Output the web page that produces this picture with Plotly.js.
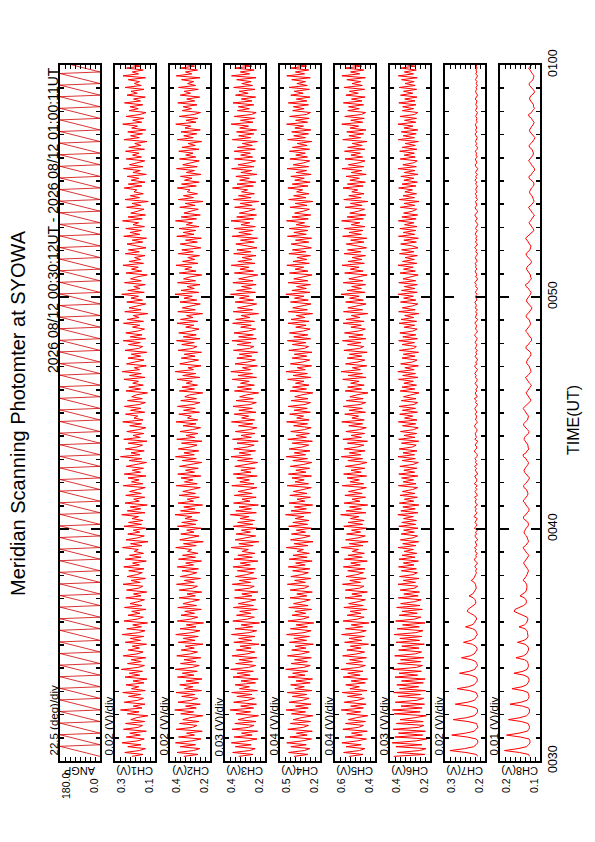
<!DOCTYPE html>
<html><head><meta charset="utf-8">
<script src="https://cdn.plot.ly/plotly-3.0.1.min.js"></script>
<style>html,body{margin:0;padding:0;background:#fff}#chart{width:595px;height:842px}</style>
</head><body><div id="chart"></div>
<script>
const chartTitle = 'Meridian Scanning Photomter at SYOWA';
const periodText = '2026 08/12 00:30:12UT - 2026 08/12 01:00:11UT';
const timeTitle = 'TIME(UT)';
const timeTickVals = [30, 40, 50, 60];
const timeTickText = ['0030', '0040', '0050', '0100'];
const channelNames = ['ANGP', 'CH1(V)', 'CH2(V)', 'CH3(V)', 'CH4(V)', 'CH5(V)', 'CH6(V)', 'CH7(V)', 'CH8(V)'];
const scaleLabels = ['22.5 (deg)/div', '0.02 (V)/div', '0.02 (V)/div', '0.03 (V)/div', '0.04 (V)/div', '0.04 (V)/div', '0.03 (V)/div', '0.02 (V)/div', '0.01 (V)/div'];
const axisLow  = [0,   0.12, 0.20, 0.20, 0.20, 0.32, 0.20, 0.16, 0.10];
const axisHigh = [180, 0.28, 0.36, 0.44, 0.52, 0.64, 0.44, 0.32, 0.18];
const axisDiv  = [22.5, 0.02, 0.02, 0.03, 0.04, 0.04, 0.03, 0.02, 0.01];
const highLabels = ['180.0', '0.3', '0.4', '0.4', '0.5', '0.6', '0.4', '0.3', '0.2'];
const lowLabels  = ['0.0', '0.1', '0.2', '0.2', '0.2', '0.4', '0.2', '0.2', '0.1'];

// scan angle (sawtooth): slow sweep 0 -> 180 deg, fast return, one scan every 30 s from 00:30:12
const scanStart = 30.2, scanPeriod = 0.5, sweepTime = 26 / 60;
const angp = [0,180,0,180,0,180,0,180,0,180,0,180,0,180,0,180,0,180,0,180,
0,180,0,180,0,180,0,180,0,180,0,180,0,180,0,180,0,180,0,180,
0,180,0,180,0,180,0,180,0,180,0,180,0,180,0,180,0,180,0,180,
0,180,0,180,0,180,0,180,0,180,0,180,0,180,0,180,0,180,0,180,
0,180,0,180,0,180,0,180,0,180,0,180,0,180,0,180,0,180,0,180,
0,180,0,180,0,180,0,180,0,180,0,180,0,180,0,180,0,180,0,180,0];

// photometer samples every 5 s starting 00:30:12
const sampleStart = 30.2, sampleStep = 1 / 12;
const ch1 = [
0.212,0.168,0.241,0.183,0.158,0.229,0.176,0.252,0.190,0.163,0.235,0.179,
0.221,0.155,0.246,0.187,0.170,0.238,0.161,0.217,0.194,0.149,0.231,0.184,
0.258,0.172,0.207,0.160,0.243,0.189,0.166,0.226,0.177,0.249,0.159,0.214,
0.185,0.236,0.164,0.208,0.152,0.240,0.181,0.223,0.170,0.255,0.188,0.162,
0.230,0.175,0.215,0.157,0.247,0.192,0.168,0.227,0.182,0.211,0.154,0.239,
0.178,0.219,0.165,0.251,0.186,0.160,0.233,0.174,0.209,0.150,0.244,0.191,
0.167,0.228,0.180,0.213,0.156,0.242,0.173,0.220,0.189,0.162,0.237,0.176,
0.206,0.153,0.234,0.185,0.169,0.248,0.179,0.216,0.158,0.232,0.193,0.171,
0.225,0.164,0.245,0.182,0.210,0.155,0.239,0.176,0.222,0.166,0.203,0.187,
0.250,0.172,0.218,0.148,0.236,0.190,0.163,0.229,0.181,0.207,0.157,0.244,
0.174,0.226,0.168,0.212,0.186,0.253,0.160,0.231,0.177,0.219,0.151,0.240,
0.183,0.205,0.161,0.237,0.175,0.222,0.190,0.159,0.247,0.169,0.214,0.184,
0.228,0.156,0.243,0.178,0.211,0.166,0.235,0.188,0.154,0.224,0.172,0.258,
0.180,0.216,0.163,0.239,0.192,0.170,0.227,0.152,0.245,0.179,0.208,0.165,
0.233,0.185,0.157,0.221,0.174,0.249,0.168,0.204,0.189,0.238,0.161,0.218,
0.176,0.242,0.183,0.158,0.230,0.171,0.213,0.194,0.150,0.236,0.178,0.225,
0.167,0.209,0.186,0.244,0.160,0.222,0.175,0.251,0.182,0.203,0.155,0.234,
0.191,0.164,0.228,0.177,0.215,0.153,0.240,0.185,0.169,0.226,0.179,0.247,
0.158,0.219,0.172,0.237,0.188,0.162,0.210,0.181,0.246,0.166,0.231,0.184,
0.207,0.149,0.241,0.176,0.224,0.190,0.157,0.233,0.170,0.216,0.186,0.253,
0.163,0.229,0.180,0.205,0.159,0.242,0.175,0.218,0.192,0.151,0.236,0.173,
0.214,0.187,0.248,0.166,0.223,0.178,0.202,0.160,0.239,0.183,0.226,0.156,
0.195,0.232,0.169,0.211,0.154,0.245,0.181,0.220,0.174,0.237,0.162,0.208,
0.186,0.250,0.171,0.228,0.158,0.217,0.189,0.164,0.234,0.177,0.212,0.147,
0.240,0.182,0.219,0.167,0.204,0.193,0.243,0.172,0.227,0.160,0.215,0.185,
0.231,0.155,0.208,0.179,0.246,0.168,0.222,0.188,0.161,0.235,0.174,0.210,
0.184,0.238,0.162,0.225,0.176,0.201,0.152,0.244,0.183,0.218,0.170,0.229,
0.157,0.213,0.190,0.249,0.173,0.209,0.165,0.236,0.180,0.156,0.224,0.187,
0.220,0.169,0.242,0.178,0.206,0.159,0.232,0.191,0.216,0.164,0.239,0.175,
0.203,0.182,0.227,0.158,0.248,0.186,0.211,0.167,0.234,0.179,0.219,0.171];
const ch2 = [
0.305,0.248,0.332,0.266,0.241,0.319,0.258,0.338,0.273,0.236,0.326,0.262,
0.294,0.231,0.335,0.270,0.252,0.322,0.244,0.309,0.280,0.229,0.317,0.265,
0.341,0.255,0.298,0.239,0.328,0.276,0.249,0.313,0.261,0.336,0.234,0.302,
0.268,0.321,0.245,0.296,0.232,0.330,0.264,0.311,0.251,0.339,0.271,0.243,
0.318,0.257,0.304,0.237,0.333,0.278,0.250,0.315,0.263,0.299,0.228,0.327,
0.260,0.307,0.247,0.337,0.272,0.240,0.320,0.256,0.295,0.226,0.331,0.277,
0.249,0.316,0.262,0.301,0.235,0.329,0.254,0.308,0.275,0.242,0.324,0.259,
0.292,0.233,0.323,0.269,0.250,0.334,0.263,0.303,0.238,0.319,0.280,0.253,
0.312,0.246,0.331,0.266,0.297,0.234,0.326,0.258,0.310,0.248,0.290,0.274,
0.337,0.255,0.306,0.227,0.321,0.277,0.244,0.317,0.264,0.293,0.236,0.330,
0.257,0.313,0.250,0.300,0.272,0.340,0.241,0.318,0.260,0.305,0.230,0.328,
0.266,0.291,0.243,0.324,0.258,0.309,0.276,0.239,0.335,0.251,0.302,0.268,
0.316,0.237,0.329,0.262,0.298,0.247,0.322,0.273,0.233,0.311,0.255,0.338,
0.263,0.304,0.245,0.327,0.279,0.252,0.314,0.232,0.333,0.261,0.296,0.248,
0.320,0.270,0.238,0.308,0.256,0.336,0.249,0.290,0.275,0.325,0.242,0.306,
0.259,0.330,0.267,0.240,0.317,0.254,0.301,0.281,0.229,0.323,0.262,0.312,
0.250,0.295,0.271,0.332,0.241,0.309,0.257,0.339,0.266,0.288,0.236,0.321,
0.278,0.246,0.315,0.260,0.303,0.234,0.328,0.270,0.252,0.313,0.263,0.334,
0.240,0.307,0.255,0.325,0.274,0.244,0.297,0.265,0.332,0.249,0.318,0.268,
0.294,0.230,0.329,0.259,0.311,0.277,0.239,0.320,0.253,0.304,0.271,0.340,
0.245,0.316,0.263,0.292,0.240,0.330,0.258,0.306,0.279,0.233,0.323,0.256,
0.301,0.273,0.336,0.248,0.310,0.261,0.289,0.242,0.327,0.267,0.313,0.237,
0.282,0.319,0.251,0.298,0.235,0.333,0.264,0.307,0.257,0.324,0.244,0.295,
0.270,0.338,0.254,0.315,0.239,0.304,0.276,0.247,0.321,0.260,0.299,0.228,
0.327,0.266,0.306,0.250,0.291,0.280,0.331,0.255,0.314,0.243,0.302,0.272,
0.318,0.236,0.295,0.262,0.334,0.251,0.309,0.275,0.243,0.322,0.257,0.297,
0.268,0.325,0.244,0.312,0.259,0.288,0.233,0.331,0.267,0.305,0.253,0.316,
0.239,0.300,0.277,0.337,0.256,0.296,0.248,0.323,0.264,0.238,0.311,0.274,
0.307,0.252,0.329,0.261,0.293,0.241,0.319,0.278,0.303,0.247,0.326,0.258,
0.290,0.265,0.314,0.240,0.335,0.273,0.298,0.250,0.321,0.262,0.306,0.254];
const ch3 = [
0.357,0.272,0.394,0.291,0.259,0.378,0.283,0.402,0.306,0.248,0.385,0.277,
0.341,0.244,0.398,0.299,0.266,0.381,0.254,0.362,0.313,0.239,0.374,0.287,
0.409,0.268,0.346,0.251,0.388,0.304,0.263,0.369,0.279,0.400,0.245,0.353,
0.293,0.379,0.257,0.344,0.241,0.392,0.289,0.367,0.270,0.406,0.298,0.256,
0.376,0.275,0.355,0.249,0.397,0.308,0.262,0.372,0.284,0.349,0.236,0.387,
0.280,0.358,0.260,0.401,0.295,0.250,0.380,0.274,0.343,0.233,0.393,0.305,
0.264,0.371,0.285,0.352,0.246,0.389,0.269,0.360,0.301,0.255,0.383,0.278,
0.339,0.242,0.382,0.292,0.265,0.396,0.286,0.354,0.250,0.377,0.310,0.267,
0.366,0.258,0.391,0.288,0.348,0.243,0.386,0.276,0.363,0.261,0.337,0.300,
0.403,0.271,0.357,0.237,0.379,0.303,0.256,0.373,0.287,0.342,0.247,0.390,
0.273,0.364,0.263,0.350,0.296,0.408,0.252,0.375,0.281,0.356,0.240,0.388,
0.290,0.338,0.253,0.384,0.277,0.361,0.302,0.249,0.399,0.266,0.351,0.294,
0.370,0.247,0.390,0.284,0.345,0.259,0.381,0.297,0.244,0.365,0.274,0.404,
0.286,0.355,0.257,0.387,0.307,0.265,0.368,0.241,0.395,0.282,0.344,0.260,
0.378,0.293,0.249,0.359,0.273,0.401,0.262,0.340,0.298,0.385,0.254,0.357,
0.276,0.392,0.289,0.252,0.374,0.270,0.352,0.309,0.238,0.383,0.281,0.366,
0.264,0.347,0.295,0.396,0.251,0.362,0.275,0.405,0.287,0.336,0.246,0.380,
0.303,0.258,0.369,0.279,0.354,0.244,0.389,0.292,0.266,0.367,0.284,0.398,
0.252,0.358,0.270,0.386,0.299,0.256,0.346,0.283,0.394,0.263,0.376,0.290,
0.343,0.239,0.391,0.274,0.365,0.302,0.250,0.379,0.268,0.353,0.295,0.407,
0.257,0.371,0.281,0.341,0.253,0.393,0.272,0.358,0.306,0.243,0.384,0.269,
0.350,0.297,0.402,0.261,0.363,0.278,0.338,0.254,0.388,0.285,0.368,0.248,
0.307,0.375,0.265,0.347,0.245,0.397,0.282,0.357,0.271,0.386,0.258,0.344,
0.291,0.404,0.268,0.370,0.251,0.354,0.300,0.260,0.382,0.277,0.349,0.238,
0.389,0.284,0.359,0.264,0.340,0.305,0.395,0.270,0.368,0.255,0.352,0.293,
0.375,0.248,0.345,0.280,0.400,0.266,0.361,0.296,0.257,0.383,0.274,0.346,
0.288,0.385,0.259,0.366,0.276,0.336,0.245,0.396,0.286,0.358,0.267,0.371,
0.250,0.352,0.299,0.403,0.272,0.347,0.262,0.384,0.281,0.253,0.365,0.294,
0.360,0.267,0.392,0.278,0.342,0.256,0.377,0.301,0.355,0.260,0.388,0.275,
0.339,0.283,0.370,0.254,0.401,0.292,0.348,0.265,0.381,0.279,0.359,0.269];
const ch4 = [
0.408,0.297,0.452,0.325,0.281,0.433,0.310,0.466,0.342,0.268,0.441,0.303,
0.389,0.262,0.458,0.333,0.292,0.437,0.276,0.414,0.350,0.258,0.428,0.316,
0.471,0.294,0.396,0.272,0.447,0.339,0.287,0.421,0.306,0.462,0.265,0.402,
0.326,0.435,0.279,0.392,0.260,0.455,0.320,0.419,0.298,0.474,0.331,0.278,
0.431,0.301,0.404,0.270,0.460,0.345,0.285,0.426,0.313,0.398,0.253,0.444,
0.308,0.409,0.284,0.468,0.328,0.271,0.437,0.300,0.391,0.250,0.456,0.340,
0.288,0.424,0.314,0.401,0.267,0.450,0.295,0.412,0.335,0.278,0.440,0.305,
0.386,0.262,0.439,0.324,0.290,0.461,0.317,0.403,0.272,0.433,0.347,0.293,
0.419,0.281,0.454,0.319,0.395,0.263,0.446,0.303,0.416,0.286,0.383,0.333,
0.469,0.297,0.407,0.256,0.436,0.338,0.279,0.428,0.316,0.389,0.268,0.451,
0.299,0.417,0.288,0.398,0.329,0.476,0.274,0.432,0.309,0.405,0.259,0.448,
0.321,0.384,0.276,0.442,0.304,0.413,0.336,0.270,0.463,0.292,0.400,0.327,
0.424,0.268,0.452,0.312,0.393,0.283,0.438,0.330,0.265,0.418,0.300,0.470,
0.315,0.406,0.280,0.447,0.343,0.290,0.422,0.261,0.458,0.309,0.392,0.284,
0.434,0.326,0.271,0.411,0.300,0.467,0.287,0.386,0.332,0.443,0.277,0.408,
0.302,0.455,0.320,0.275,0.430,0.296,0.402,0.345,0.257,0.440,0.308,0.420,
0.288,0.396,0.328,0.459,0.273,0.415,0.301,0.472,0.318,0.382,0.267,0.437,
0.337,0.282,0.423,0.306,0.405,0.264,0.450,0.324,0.291,0.421,0.313,0.461,
0.275,0.410,0.297,0.445,0.333,0.279,0.394,0.311,0.456,0.288,0.432,0.322,
0.390,0.259,0.453,0.301,0.418,0.336,0.272,0.436,0.294,0.404,0.328,0.473,
0.280,0.425,0.309,0.388,0.276,0.455,0.298,0.410,0.341,0.264,0.444,0.296,
0.399,0.330,0.465,0.286,0.416,0.305,0.385,0.277,0.449,0.314,0.421,0.269,
0.342,0.431,0.290,0.396,0.267,0.460,0.310,0.409,0.297,0.447,0.282,0.391,
0.323,0.468,0.294,0.424,0.274,0.403,0.333,0.285,0.440,0.304,0.398,0.258,
0.451,0.312,0.411,0.289,0.387,0.339,0.457,0.296,0.422,0.279,0.402,0.326,
0.433,0.271,0.392,0.307,0.464,0.291,0.414,0.329,0.281,0.441,0.300,0.394,
0.318,0.445,0.283,0.420,0.303,0.383,0.266,0.459,0.316,0.410,0.292,0.427,
0.273,0.401,0.332,0.467,0.299,0.395,0.287,0.443,0.310,0.276,0.419,0.327,
0.413,0.292,0.454,0.305,0.389,0.280,0.434,0.335,0.406,0.284,0.448,0.302,
0.385,0.315,0.426,0.278,0.466,0.323,0.397,0.290,0.439,0.307,0.412,0.295];
const ch5 = [
0.527,0.416,0.571,0.444,0.401,0.552,0.430,0.585,0.461,0.388,0.560,0.422,
0.508,0.382,0.577,0.452,0.412,0.556,0.396,0.533,0.469,0.378,0.547,0.435,
0.590,0.413,0.515,0.391,0.566,0.458,0.406,0.540,0.425,0.581,0.384,0.521,
0.445,0.554,0.398,0.511,0.380,0.574,0.439,0.538,0.417,0.593,0.450,0.397,
0.550,0.420,0.523,0.389,0.579,0.464,0.404,0.545,0.432,0.517,0.372,0.563,
0.427,0.528,0.403,0.587,0.447,0.390,0.556,0.419,0.510,0.369,0.575,0.459,
0.407,0.543,0.433,0.520,0.386,0.569,0.414,0.531,0.454,0.397,0.559,0.424,
0.505,0.381,0.558,0.443,0.409,0.580,0.436,0.522,0.391,0.552,0.466,0.412,
0.538,0.400,0.573,0.438,0.514,0.382,0.565,0.422,0.535,0.405,0.502,0.452,
0.588,0.416,0.526,0.375,0.555,0.457,0.398,0.547,0.435,0.508,0.387,0.570,
0.418,0.536,0.407,0.517,0.448,0.595,0.393,0.551,0.428,0.524,0.378,0.567,
0.440,0.503,0.395,0.561,0.423,0.532,0.455,0.389,0.582,0.411,0.519,0.446,
0.543,0.387,0.571,0.431,0.512,0.402,0.557,0.449,0.384,0.537,0.419,0.589,
0.434,0.525,0.399,0.566,0.462,0.409,0.541,0.380,0.577,0.428,0.511,0.403,
0.553,0.445,0.390,0.530,0.419,0.586,0.406,0.505,0.451,0.562,0.396,0.527,
0.421,0.574,0.439,0.394,0.549,0.415,0.521,0.464,0.376,0.559,0.427,0.539,
0.407,0.515,0.447,0.578,0.392,0.534,0.420,0.591,0.437,0.501,0.386,0.556,
0.456,0.401,0.542,0.425,0.524,0.383,0.569,0.443,0.410,0.540,0.432,0.580,
0.394,0.529,0.416,0.564,0.452,0.398,0.513,0.430,0.575,0.407,0.551,0.441,
0.509,0.378,0.572,0.420,0.537,0.455,0.391,0.555,0.413,0.523,0.447,0.592,
0.399,0.544,0.428,0.507,0.395,0.574,0.417,0.529,0.460,0.383,0.563,0.415,
0.518,0.449,0.584,0.405,0.535,0.424,0.504,0.396,0.568,0.433,0.540,0.388,
0.461,0.550,0.409,0.515,0.386,0.579,0.429,0.528,0.416,0.566,0.401,0.510,
0.442,0.587,0.413,0.543,0.393,0.522,0.452,0.404,0.559,0.423,0.517,0.377,
0.570,0.431,0.530,0.408,0.506,0.458,0.576,0.415,0.541,0.398,0.521,0.445,
0.552,0.390,0.511,0.426,0.583,0.410,0.533,0.448,0.400,0.560,0.419,0.513,
0.437,0.564,0.402,0.539,0.422,0.502,0.385,0.578,0.435,0.529,0.411,0.546,
0.392,0.520,0.451,0.586,0.418,0.514,0.406,0.562,0.429,0.395,0.538,0.446,
0.532,0.411,0.573,0.424,0.508,0.399,0.553,0.454,0.525,0.403,0.567,0.421,
0.504,0.434,0.545,0.397,0.585,0.442,0.516,0.409,0.558,0.426,0.531,0.414];
const ch6 = [
0.418,0.231,0.396,0.262,0.224,0.405,0.249,0.427,0.283,0.219,0.411,0.244,
0.389,0.228,0.421,0.270,0.236,0.402,0.241,0.380,0.291,0.222,0.414,0.259,
0.425,0.247,0.374,0.233,0.408,0.279,0.238,0.392,0.257,0.418,0.226,0.383,
0.268,0.399,0.240,0.371,0.229,0.410,0.274,0.386,0.252,0.423,0.281,0.245,
0.394,0.256,0.377,0.237,0.412,0.289,0.251,0.388,0.266,0.369,0.234,0.403,
0.262,0.381,0.248,0.416,0.285,0.242,0.397,0.264,0.365,0.230,0.406,0.293,
0.255,0.385,0.277,0.368,0.246,0.400,0.260,0.376,0.294,0.253,0.390,0.271,
0.357,0.263,0.379,0.292,0.274,0.392,0.287,0.361,0.266,0.383,0.302,0.276,
0.372,0.282,0.389,0.296,0.360,0.270,0.386,0.290,0.368,0.279,0.355,0.299,
0.391,0.285,0.364,0.268,0.378,0.303,0.275,0.373,0.294,0.358,0.272,0.387,
0.286,0.369,0.281,0.359,0.300,0.393,0.273,0.375,0.289,0.363,0.267,0.384,
0.297,0.354,0.276,0.380,0.291,0.366,0.305,0.274,0.389,0.284,0.361,0.298,
0.370,0.273,0.387,0.292,0.357,0.279,0.381,0.301,0.270,0.367,0.288,0.392,
0.293,0.362,0.278,0.385,0.306,0.283,0.371,0.268,0.388,0.290,0.356,0.280,
0.377,0.299,0.271,0.365,0.286,0.390,0.278,0.353,0.303,0.382,0.275,0.366,
0.287,0.386,0.296,0.274,0.372,0.284,0.359,0.307,0.266,0.379,0.291,0.368,
0.281,0.357,0.300,0.389,0.272,0.364,0.287,0.393,0.295,0.351,0.270,0.376,
0.304,0.278,0.368,0.290,0.360,0.269,0.384,0.298,0.282,0.367,0.293,0.388,
0.275,0.363,0.285,0.381,0.302,0.277,0.355,0.292,0.386,0.280,0.374,0.297,
0.352,0.267,0.388,0.289,0.366,0.304,0.273,0.377,0.285,0.358,0.300,0.391,
0.277,0.371,0.291,0.354,0.276,0.387,0.286,0.362,0.306,0.271,0.380,0.288,
0.359,0.301,0.392,0.279,0.365,0.294,0.350,0.276,0.383,0.296,0.370,0.272,
0.305,0.376,0.282,0.357,0.270,0.389,0.292,0.360,0.286,0.381,0.278,0.353,
0.296,0.390,0.283,0.369,0.274,0.358,0.303,0.280,0.378,0.291,0.356,0.266,
0.384,0.293,0.362,0.281,0.351,0.305,0.388,0.284,0.368,0.276,0.357,0.297,
0.375,0.272,0.354,0.290,0.391,0.282,0.363,0.299,0.277,0.379,0.289,0.355,
0.294,0.382,0.279,0.367,0.288,0.349,0.270,0.390,0.293,0.361,0.283,0.372,
0.273,0.356,0.302,0.392,0.285,0.353,0.281,0.380,0.292,0.274,0.366,0.298,
0.364,0.284,0.387,0.290,0.352,0.278,0.377,0.303,0.359,0.280,0.385,0.289,
0.350,0.295,0.371,0.277,0.390,0.299,0.354,0.282,0.379,0.291,0.362,0.287];
const ch7 = [
0.190,0.194,0.236,0.300,0.242,0.205,0.196,0.189,
0.189,0.195,0.231,0.293,0.238,0.203,0.197,0.188,
0.191,0.194,0.228,0.287,0.233,0.204,0.195,0.190,
0.190,0.196,0.224,0.279,0.229,0.202,0.196,0.189,
0.192,0.195,0.221,0.271,0.226,0.204,0.197,0.191,
0.191,0.196,0.217,0.262,0.222,0.201,0.196,0.190,
0.193,0.197,0.214,0.254,0.219,0.203,0.198,0.192,
0.192,0.198,0.211,0.246,0.215,0.201,0.197,0.191,
0.194,0.197,0.209,0.238,0.212,0.202,0.199,0.193,
0.196,0.205,0.219,0.231,0.228,0.217,0.206,0.197,
0.197,0.200,0.207,0.224,0.209,0.203,0.199,0.195,
0.196,0.198,0.203,0.215,0.205,0.200,0.198,0.194,
0.198,0.193,0.201,0.196,0.190,0.199,0.203,0.194,0.197,0.191,0.200,0.195,
0.202,0.192,0.197,0.199,0.189,0.196,0.201,0.194,0.198,0.190,0.203,0.195,
0.193,0.200,0.196,0.191,0.204,0.197,0.192,0.199,0.195,0.201,0.190,0.197,
0.199,0.194,0.202,0.190,0.196,0.200,0.193,0.198,0.191,0.203,0.195,0.192,
0.197,0.201,0.189,0.196,0.199,0.194,0.202,0.191,0.198,0.195,0.200,0.193,
0.190,0.198,0.203,0.195,0.192,0.200,0.196,0.189,0.201,0.194,0.197,0.199,
0.194,0.191,0.199,0.202,0.196,0.190,0.198,0.195,0.193,0.200,0.192,0.197,
0.201,0.195,0.190,0.198,0.194,0.203,0.191,0.196,0.199,0.193,0.197,0.189,
0.196,0.200,0.193,0.191,0.199,0.195,0.201,0.194,0.190,0.197,0.202,0.192,
0.198,0.189,0.196,0.200,0.193,0.197,0.191,0.199,0.195,0.192,0.200,0.194,
0.191,0.197,0.202,0.194,0.190,0.198,0.195,0.193,0.201,0.196,0.189,0.199,
0.195,0.192,0.198,0.190,0.200,0.194,0.197,0.201,0.192,0.196,0.199,0.191,
0.199,0.194,0.190,0.197,0.195,0.201,0.193,0.189,0.198,0.192,0.196,0.200,
0.192,0.198,0.195,0.200,0.191,0.196,0.199,0.194,0.190,0.197,0.193,0.201,
0.196,0.190,0.199,0.193,0.197,0.192,0.200,0.195,0.191,0.198,0.194,0.189,
0.193,0.199,0.191,0.196,0.201,0.194,0.189,0.197,0.200,0.192,0.195,0.198,
0.190,0.196,0.194,0.199,0.192,0.197,0.195,0.190,0.198,0.193,0.200,0.194,
0.197,0.191,0.198,0.193,0.189,0.196,0.200,0.192,0.195,0.199,0.191,0.196,
0.194,0.199,0.192,0.190,0.197,0.193,0.198,0.195,0.191,0.196,0.200,0.192,
0.198,0.193,0.196,0.199,0.191,0.195,0.192,0.197,0.194,0.190,0.198,0.193,
0.191,0.197,0.194,0.192,0.199,0.196,0.190,0.195,0.198,0.193,0.196,0.191,
0.195,0.192,0.198,0.194,0.190,0.197,0.193,0.196,0.192,0.195,0.191,0.194];
const ch8 = [
0.121,0.123,0.141,0.171,0.144,0.127,0.123,0.120,
0.120,0.122,0.139,0.167,0.142,0.126,0.122,0.121,
0.122,0.124,0.137,0.163,0.140,0.127,0.123,0.121,
0.121,0.123,0.135,0.160,0.138,0.126,0.123,0.122,
0.123,0.124,0.134,0.156,0.136,0.127,0.124,0.122,
0.122,0.124,0.132,0.152,0.134,0.126,0.124,0.123,
0.124,0.125,0.131,0.148,0.133,0.127,0.125,0.123,
0.123,0.125,0.130,0.145,0.132,0.126,0.124,0.124,
0.125,0.126,0.130,0.142,0.131,0.127,0.125,0.124,
0.126,0.134,0.145,0.152,0.150,0.141,0.133,0.128,
0.127,0.128,0.131,0.140,0.133,0.129,0.127,0.126,
0.126,0.127,0.129,0.134,0.130,0.128,0.126,0.125,
0.123,0.125,0.128,0.131,0.133,0.130,0.127,0.124,
0.122,0.126,0.129,0.132,0.134,0.129,0.126,0.123,
0.124,0.125,0.127,0.131,0.132,0.130,0.128,0.124,
0.123,0.124,0.129,0.133,0.133,0.128,0.126,0.122,
0.122,0.126,0.128,0.130,0.134,0.131,0.127,0.125,
0.124,0.125,0.127,0.132,0.133,0.129,0.125,0.123,
0.121,0.125,0.129,0.131,0.132,0.130,0.127,0.124,
0.123,0.126,0.128,0.133,0.134,0.128,0.126,0.122,
0.124,0.124,0.127,0.130,0.132,0.131,0.128,0.123,
0.122,0.125,0.129,0.132,0.133,0.129,0.125,0.124,
0.123,0.126,0.128,0.131,0.134,0.130,0.126,0.122,
0.118,0.120,0.123,0.126,0.128,0.125,0.122,0.119,
0.117,0.121,0.124,0.127,0.129,0.124,0.121,0.118,
0.119,0.120,0.122,0.126,0.127,0.125,0.123,0.119,
0.118,0.119,0.124,0.128,0.128,0.123,0.121,0.117,
0.117,0.121,0.123,0.125,0.129,0.126,0.122,0.120,
0.119,0.120,0.122,0.127,0.128,0.124,0.120,0.118,
0.116,0.120,0.124,0.126,0.127,0.125,0.122,0.119,
0.118,0.121,0.123,0.128,0.129,0.123,0.121,0.117,
0.119,0.119,0.122,0.125,0.127,0.126,0.123,0.118,
0.117,0.120,0.124,0.127,0.128,0.124,0.120,0.119,
0.118,0.121,0.123,0.126,0.129,0.125,0.121,0.117,
0.112,0.114,0.117,0.120,0.122,0.119,0.116,0.113,
0.111,0.115,0.118,0.121,0.123,0.118,0.115,0.112,
0.113,0.114,0.116,0.120,0.121,0.119,0.117,0.113,
0.112,0.113,0.118,0.122,0.122,0.117,0.115,0.111,
0.111,0.115,0.117,0.119,0.123,0.120,0.116,0.114,
0.113,0.114,0.116,0.121,0.122,0.118,0.114,0.112,
0.110,0.114,0.118,0.120,0.121,0.119,0.116,0.113,
0.112,0.115,0.117,0.122,0.123,0.117,0.115,0.111,
0.113,0.113,0.116,0.119,0.121,0.120,0.117,0.112,
0.111,0.114,0.118,0.121,0.122,0.118,0.114,0.113,
0.112,0.115,0.117,0.120,0.123,0.119,0.115,0.111];

const series = [angp, ch1, ch2, ch3, ch4, ch5, ch6, ch7, ch8];

// ---- layout geometry (pixels on the 595x842 page) ----
const W = 595, H = 842;
const panelLeft0 = 60, panelStep = 55, panelWidth = 40;
const panelTop = 65, panelBottom = 761;
const px = v => v / W;
const py = v => 1 - v / H;
const FONT = 'Liberation Sans, Arial, Helvetica, sans-serif';

const traces = [];
const layout = {
  width: W, height: H,
  margin: {l: 0, r: 0, t: 0, b: 0},
  paper_bgcolor: '#fff', plot_bgcolor: '#fff',
  showlegend: false,
  font: {family: FONT, color: '#000'},
  annotations: []
};

// time stamps: scan turning points for the angle, regular samples for the channels
const angpTimes = angp.map((_, k) => scanStart + Math.floor(k / 2) * scanPeriod + (k % 2) * sweepTime);

series.forEach((vals, i) => {
  const s = i === 0 ? '' : String(i + 1);
  const times = i === 0 ? angpTimes : vals.map((_, k) => sampleStart + k * sampleStep);
  traces.push({
    type: 'scatter', mode: 'lines', x: vals, y: times,
    xaxis: 'x' + s, yaxis: 'y' + s,
    line: {color: i === 0 ? '#d00000' : '#ff0000', width: i === 0 ? 0.8 : 1},
    hoverinfo: 'skip'
  });
  const left = panelLeft0 + panelStep * i, right = left + panelWidth;
  const divs = [];
  for (let k = 0; k <= 8; k++) divs.push(axisLow[i] + k * axisDiv[i]);
  layout['xaxis' + s] = {
    domain: [px(left), px(right)], range: [axisHigh[i], axisLow[i]],
    anchor: 'y' + s, showline: true, linecolor: '#000', linewidth: 2, mirror: 'ticks',
    ticks: 'inside', tickmode: 'array', tickvals: divs, ticklen: 4, tickwidth: 1, tickcolor: '#000',
    showticklabels: false, showgrid: false, zeroline: false, fixedrange: true
  };
  const last = i === series.length - 1;
  layout['yaxis' + s] = {
    domain: [py(panelBottom), py(panelTop)], range: [30, 60],
    anchor: 'x' + s, side: last ? 'right' : 'left',
    showline: true, linecolor: '#000', linewidth: 2, mirror: 'ticks',
    ticks: 'inside', tickmode: 'array', tickvals: timeTickVals, ticktext: timeTickText,
    ticklen: 9, tickwidth: 2, tickcolor: '#000',
    minor: {tickmode: 'linear', tick0: 30, dtick: 1, ticks: 'inside', ticklen: 4, tickwidth: 1.5, tickcolor: '#000', showgrid: false},
    showticklabels: last, tickangle: -90, tickfont: {size: 12.5, family: FONT},
    showgrid: false, zeroline: false, fixedrange: true
  };
  layout.annotations.push({xref: 'paper', yref: 'paper', x: px(left - 7), y: py(panelBottom - 3),
    xanchor: 'center', yanchor: 'bottom', textangle: -90, showarrow: false,
    text: scaleLabels[i], font: {size: 11.5, family: FONT}});
  layout.annotations.push({xref: 'paper', yref: 'paper', x: px((left + right) / 2), y: py(771),
    xanchor: 'center', yanchor: 'middle', textangle: 180, showarrow: false,
    text: channelNames[i], font: {size: 11, family: FONT}});
  layout.annotations.push({xref: 'paper', yref: 'paper', x: px(left + 6), y: py(786),
    xanchor: 'center', yanchor: 'middle', textangle: -90, showarrow: false,
    text: highLabels[i], font: {size: 10.5, family: FONT}});
  layout.annotations.push({xref: 'paper', yref: 'paper', x: px(right - 6), y: py(786),
    xanchor: 'center', yanchor: 'middle', textangle: -90, showarrow: false,
    text: lowLabels[i], font: {size: 10.5, family: FONT}});
});

layout.annotations.push({xref: 'paper', yref: 'paper', x: px(18), y: py(413),
  xanchor: 'center', yanchor: 'middle', textangle: -90, showarrow: false,
  text: chartTitle, font: {size: 20, family: FONT}});
layout.annotations.push({xref: 'paper', yref: 'paper', x: px(53), y: py(panelTop),
  xanchor: 'center', yanchor: 'top', textangle: -90, showarrow: false,
  text: periodText, font: {size: 14, family: FONT}});
layout.annotations.push({xref: 'paper', yref: 'paper', x: px(573), y: py(420),
  xanchor: 'center', yanchor: 'middle', textangle: -90, showarrow: false,
  text: timeTitle, font: {size: 16, family: FONT}});

Plotly.newPlot('chart', traces, layout, {staticPlot: true, displayModeBar: false});
</script>
</body></html>
